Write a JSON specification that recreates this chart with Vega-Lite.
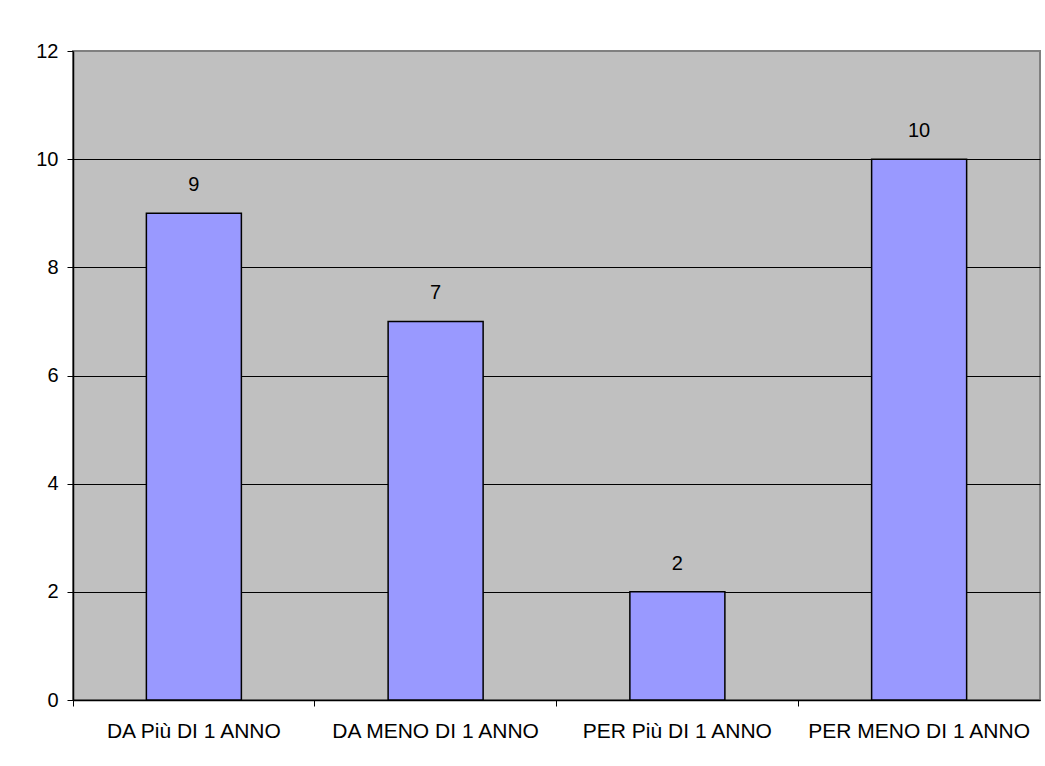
{
  "$schema": "https://vega.github.io/schema/vega-lite/v6.json",
  "width": 967,
  "height": 649,
  "autosize": {"type": "none"},
  "padding": {"left": 73, "top": 51, "right": 5, "bottom": 66},
  "background": "white",
  "data": {
    "values": [
      {"categoria": "DA Più DI 1 ANNO", "valore": 9},
      {"categoria": "DA MENO DI 1 ANNO", "valore": 7},
      {"categoria": "PER Più DI 1 ANNO", "valore": 2},
      {"categoria": "PER MENO DI 1 ANNO", "valore": 10}
    ]
  },
  "config": {
    "view": {"fill": "#C0C0C0", "stroke": "#808080", "strokeWidth": 2},
    "font": "Liberation Sans"
  },
  "encoding": {
    "x": {
      "field": "categoria",
      "type": "nominal",
      "sort": null,
      "scale": {"paddingInner": 0.607, "paddingOuter": 0.3035},
      "axis": {
        "title": null,
        "labelAngle": 0,
        "labelFontSize": 21,
        "labelLimit": 400,
        "labelColor": "black",
        "labelPadding": 14,
        "domainColor": "black",
        "domainWidth": 1.5,
        "tickColor": "black",
        "tickSize": 6,
        "bandPosition": -0.772,
        "grid": false
      }
    },
    "y": {
      "field": "valore",
      "type": "quantitative",
      "scale": {"domain": [0, 12], "nice": false},
      "axis": {
        "title": null,
        "values": [0, 2, 4, 6, 8, 10, 12],
        "labelFontSize": 20,
        "labelColor": "black",
        "labelPadding": 9,
        "domainColor": "black",
        "domainWidth": 1.5,
        "tickColor": "black",
        "tickSize": 6,
        "grid": true,
        "gridColor": {"condition": {"test": "datum.value === 12", "value": "#808080"}, "value": "black"},
        "gridWidth": 1
      }
    }
  },
  "layer": [
    {
      "mark": {"type": "bar", "fill": "#9999FF", "stroke": "black", "strokeWidth": 1.5}
    },
    {
      "mark": {"type": "text", "dy": -28, "fontSize": 20, "color": "black", "baseline": "middle"},
      "encoding": {"text": {"field": "valore", "type": "quantitative"}}
    }
  ]
}
